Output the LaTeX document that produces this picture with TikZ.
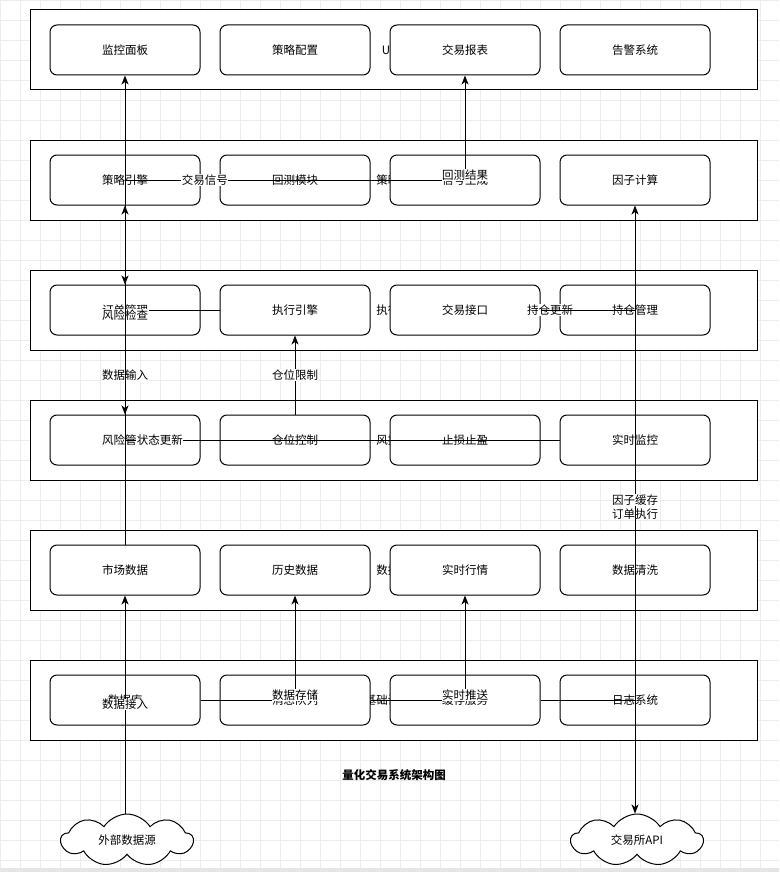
\documentclass[tikz,border=0pt]{standalone}
\usepackage{fontspec}
\setmainfont{Noto Sans CJK SC}
\usetikzlibrary{arrows.meta,shapes.symbols}

\tikzset{
  gridline/.style={gray!14, line width=0.6pt},
  layer/.style={draw, fill=white, line width=1pt, minimum width=727pt, minimum height=80pt, inner sep=0pt},
  box/.style={draw, fill=white, line width=1pt, rounded corners=7pt, minimum width=150pt, minimum height=50pt, inner sep=0pt},
  ext/.style={draw, fill=white, line width=1pt, cloud, cloud puffs=9, cloud puff arc=115, cloud ignores aspect, minimum width=132pt, minimum height=52pt, inner sep=0pt},
  flow/.style={line width=1pt, -{Stealth[length=9pt, width=7pt, inset=2.5pt]}},
  lbl/.style={fill=white, inner sep=0.5pt},
}

\begin{document}
\begin{tikzpicture}[x=1pt, y=-1pt, font=\fontsize{11.5}{13}\selectfont]
      \useasboundingbox (0,0) rectangle (779,872);
      % background grid
      \foreach \gx in {0,20,...,779} \draw[gridline] (\gx,0) -- (\gx,872);
      \foreach \gy in {0,20,...,872} \draw[gridline] (0,\gy) -- (779,\gy);
      % layers
      \node[layer] (uiL) at (393.5,50) {UI层};
      \node[layer] (stratL) at (393.5,180) {策略层};
      \node[layer] (execL) at (393.5,310) {执行层};
      \node[layer] (riskL) at (393.5,440) {风控层};
      \node[layer] (dataL) at (393.5,570) {数据层};
      \node[layer] (infraL) at (393.5,700) {基础设施层};
      % UI layer
      \node[box] (dashboard) at (125,50) {监控面板};
      \node[box] (stratcfg) at (295,50) {策略配置};
      \node[box] (report) at (465,50) {交易报表};
      \node[box] (alert) at (635,50) {告警系统};
      % strategy layer
      \node[box] (engine) at (125,180) {策略引擎};
      \node[box] (backtest) at (295,180) {回测模块};
      \node[box] (signal) at (465,180) {信号生成};
      \node[box] (factor) at (635,180) {因子计算};
      % execution layer
      \node[box] (order) at (125,310) {订单管理};
      \node[box] (exec) at (295,310) {执行引擎};
      \node[box] (gateway) at (465,310) {交易接口};
      \node[box] (position) at (635,310) {持仓管理};
      % risk layer
      \node[box] (riskmgr) at (125,440) {风险管理};
      \node[box] (poscontrol) at (295,440) {仓位控制};
      \node[box] (stoploss) at (465,440) {止损止盈};
      \node[box] (monitor) at (635,440) {实时监控};
      % data layer
      \node[box] (market) at (125,570) {市场数据};
      \node[box] (history) at (295,570) {历史数据};
      \node[box] (realtime) at (465,570) {实时行情};
      \node[box] (cleaning) at (635,570) {数据清洗};
      % infrastructure layer
      \node[box] (database) at (125,700) {数据库};
      \node[box] (mq) at (295,700) {消息队列};
      \node[box] (cache) at (465,700) {缓存服务};
      \node[box] (logging) at (635,700) {日志系统};
      % outside
      \node[ext] (extsrc) at (127,840) {外部数据源};
      \node[ext] (exchange) at (637,840) {交易所API};
      \node[font=\fontsize{11.5}{13}\selectfont\bfseries] (title) at (394,775) {量化交易系统架构图};
      % edges
      \draw[flow] (extsrc.north -| market) -- (market) node[lbl, midway] {数据接入};
      \draw[flow] (market) -- (engine) node[lbl, midway] {数据输入};
      \draw[flow] (signal.west) -| (order.north) node[lbl, pos=0.349] {交易信号};
      \draw[flow] (exec.west) -| (riskmgr.north) node[lbl, pos=0.524] {风险检查};
      \draw[flow] (backtest.east) -| (report.south) node[lbl, pos=0.524] {回测结果};
      \draw[flow] (gateway) -- (position) node[lbl, midway] {持仓更新};
      \draw[flow] (gateway.east) -| (exchange.north -| position) node[lbl, pos=0.703] {订单执行};
      \draw[flow] (cache.east) -| (factor.south) node[lbl, pos=0.702] {因子缓存};
      \draw[flow] (database.east) -| (history.south) node[lbl, pos=0.524] {数据存储};
      \draw[flow] (mq.east) -| (realtime.south) node[lbl, pos=0.524] {实时推送};
      \draw[flow] (monitor.west) -| (dashboard.south) node[lbl, pos=0.46] {状态更新};
      \draw[flow] (poscontrol) -- (exec) node[lbl, midway] {仓位限制};
      % page edge
      \fill[gray!20] (0,868) rectangle (779,872);
    \end{tikzpicture}
\end{document}
